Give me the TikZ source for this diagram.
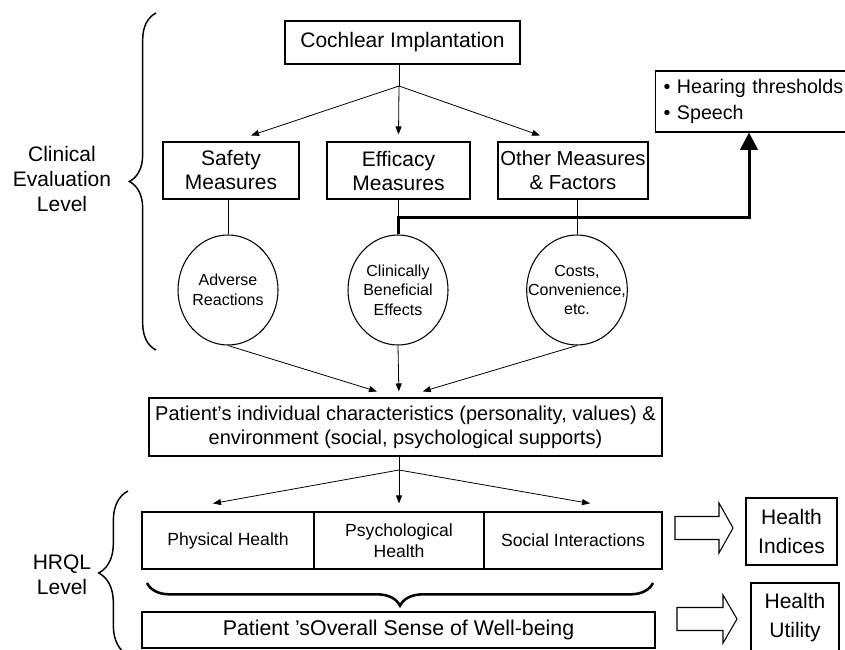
\documentclass[tikz,border=0pt]{standalone}
\usepackage{fontspec}
\setmainfont{Liberation Sans}
\usetikzlibrary{shapes.geometric,arrows.meta,decorations.pathreplacing}

\begin{document}
\begin{tikzpicture}[
            x=0.75pt, y=-0.75pt,
            box/.style={draw, line width=0.8pt, inner sep=1pt, align=center, font=\fontsize{15.75}{18}\selectfont},
            oval/.style={draw, ellipse, line width=0.8pt, minimum width=75pt, minimum height=82.5pt, inner xsep=-10pt, inner ysep=0pt, align=center, font=\fontsize{12}{14.6}\selectfont},
            cell/.style={draw, line width=0.8pt, minimum height=42.75pt, inner sep=1pt, align=center, font=\fontsize{13.2}{15.75}\selectfont},
            arr/.style={-{Triangle[length=6pt,width=4.5pt]}, line width=0.6pt},
            bigarr/.style={-{Triangle[length=13pt,width=13pt]}, line width=2.25pt},
            brace/.style={decorate, decoration={brace, amplitude=#1}, line width=1.1pt},
            fatarrow/.style={draw, line width=0.8pt, line join=miter}
            ]
            \useasboundingbox (0,0) rectangle (845,649);

            \node[align=center, font=\fontsize{15.75}{19}\selectfont] (clinical) at (62,179) {Clinical\\Evaluation\\Level};
            \node[align=center, font=\fontsize{15.75}{18.75}\selectfont] (hrql) at (62,575) {HRQL\\Level};
            \draw[brace=20pt] (156,350) -- (156,13);
            \draw[brace=22pt] (128,655) -- (128,491);

            \node[box, minimum width=176.25pt, minimum height=32.25pt] (cochlear) at (402.5,42.5) {Cochlear Implantation};
            \node[box, minimum width=102pt, minimum height=42.75pt] (safety) at (231,170.5) {Safety\\Measures};
            \node[box, minimum width=107.25pt, minimum height=42.75pt] (efficacy) at (398.5,170.5) {Efficacy\\Measures};
            \node[box, minimum width=112.5pt, minimum height=42.75pt, inner sep=0pt, font=\fontsize{15.2}{18}\selectfont] (other) at (573,170.5) {Other Measures\\\& Factors};
            \node[draw, line width=0.8pt, anchor=west, minimum height=45.75pt, inner xsep=6pt, text width=150pt, align=left, font=\fontsize{14.75}{19.5}\selectfont] (hearing) at (655,101.5) {• Hearing thresholds\\• Speech};

            \node[oval] (adverse) at (228,290) {Adverse\\Reactions};
            \node[oval] (clinically) at (398,290) {Clinically\\Beneficial\\Effects};
            \node[oval] (costs) at (577,290) {Costs,\\Convenience,\\etc.};

            \coordinate (split1) at (399,86);
            \draw[line width=0.6pt] (split1 |- cochlear.south) -- (split1);
            \draw[arr] (split1) -- ([xshift=15pt,yshift=4.5pt]safety.north);
            \draw[arr] (split1) -- ([yshift=5.25pt]efficacy.north);
            \draw[arr] (split1) -- ([xshift=-24.75pt,yshift=4.5pt]other.north);

            \draw[line width=0.6pt] (adverse.north) -- (adverse.north |- safety.south);
            \draw[line width=0.6pt] (clinically.north) -- (clinically.north |- efficacy.south);
            \draw[line width=0.6pt] (costs.north) -- (costs.north |- other.south);

            \coordinate (bend) at (749,217);
            \draw[bigarr] (clinically.north) |- (bend) -- (bend |- hearing.south);

            \node[box, minimum width=384.75pt, minimum height=43.5pt, font=\fontsize{15}{18}\selectfont] (patient) at (405.5,427) {Patient’s individual characteristics (personality, values) \&\\environment (social, psychological supports)};

            \draw[arr] (adverse.south) -- ([xshift=-21.4pt,yshift=4.5pt]patient.north);
            \draw[arr] (clinically.south) -- ([xshift=-5pt,yshift=4.5pt]patient.north);
            \draw[arr] (costs.south) -- ([xshift=13pt,yshift=4.5pt]patient.north);

            \node[cell, minimum width=129pt] (physical) at (228,540.5) {Physical Health};
            \node[cell, minimum width=127.5pt] (psych) at (399,540.5) {Psychological\\Health};
            \node[cell, minimum width=133.5pt] (social) at (573,540.5) {Social Interactions};

            \coordinate (split2) at (399,470);
            \draw[line width=0.6pt] (split2 |- patient.south) -- (split2);
            \draw[arr] (split2) -- ([xshift=-11.25pt,yshift=6pt]physical.north);
            \draw[arr] (split2) -- ([yshift=6pt]psych.north);
            \draw[arr] (split2) -- ([xshift=12.75pt,yshift=6pt]social.north);

            \draw[decorate, decoration={brace, amplitude=17pt}, line width=1.9pt] (653,583) -- (147,583);
            \node[box, minimum width=384.75pt, minimum height=27pt, font=\fontsize{16}{18}\selectfont] (overall) at (398.5,630) {Patient ’sOverall Sense of Well-being};

            \node[box, minimum width=68.25pt, minimum height=50.25pt, font=\fontsize{15.75}{21.75}\selectfont] (indices) at (791.5,531.5) {Health\\Indices};
            \node[box, minimum width=66pt, minimum height=52.5pt, font=\fontsize{15.75}{21.75}\selectfont] (utility) at (795,618) {Health\\Utility};

            \draw[fatarrow] (675,516.5) -- (719,516.5) -- (719,503) -- (733,528) -- (719,553) -- (719,539.5) -- (675,539.5) -- cycle;
            \draw[fatarrow] (677,607.5) -- (723,607.5) -- (723,595) -- (737,619) -- (723,643) -- (723,630.5) -- (677,630.5) -- cycle;

            \end{tikzpicture}
\end{document}
